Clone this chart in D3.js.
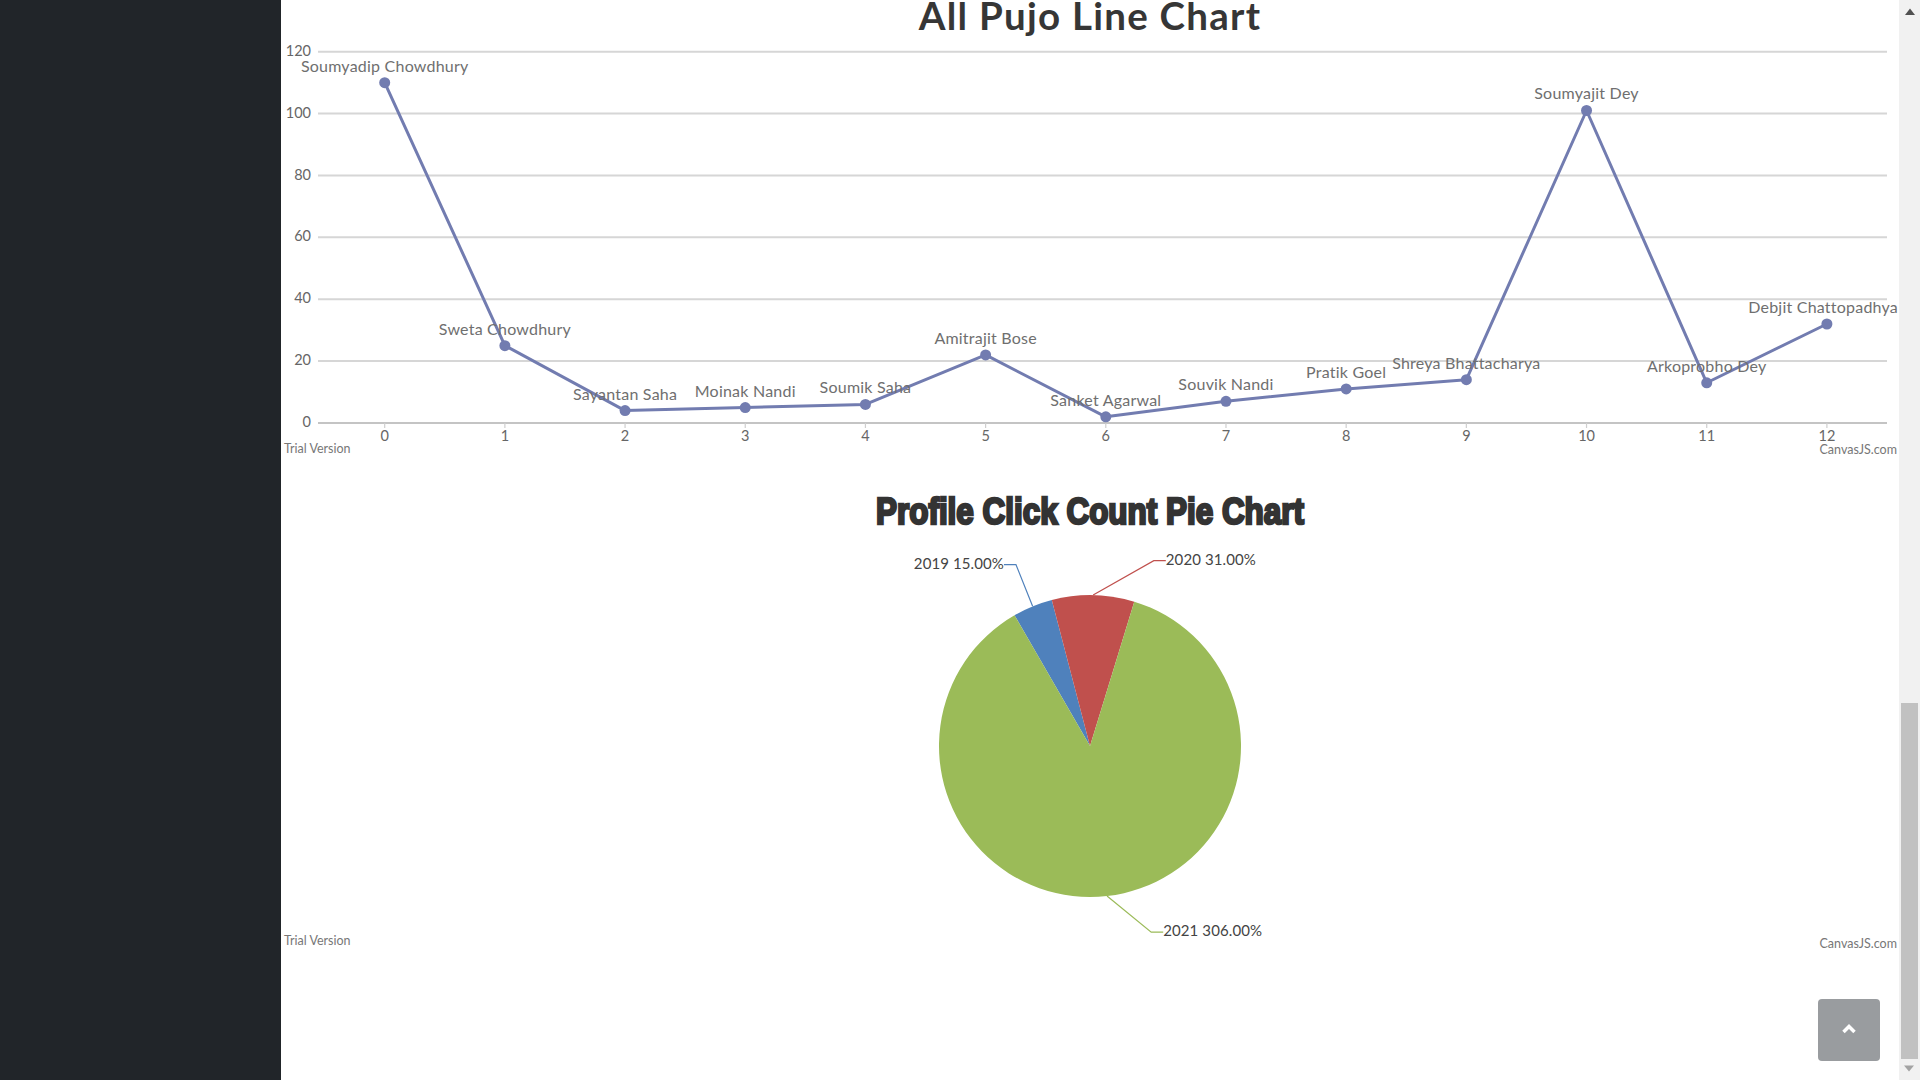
<!DOCTYPE html>
<html>
<head>
<meta charset="utf-8">
<script src="https://cdn.jsdelivr.net/npm/d3@7"></script>
<style>
html,body{margin:0;padding:0;background:#fff;overflow:hidden;width:1920px;height:1080px}
svg{position:absolute;left:0;top:0;display:block}
text{font-family:Lato,"Noto Sans",sans-serif}
</style>
</head>
<body>
<svg id="c" width="1920" height="1080"></svg>
<script>
const pointNames = ["Soumyadip Chowdhury","Sweta Chowdhury","Sayantan Saha","Moinak Nandi","Soumik Saha","Amitrajit Bose","Sanket Agarwal","Souvik Nandi","Pratik Goel","Shreya Bhattacharya","Soumyajit Dey","Arkoprobho Dey","Debjit Chattopadhya"];
const pointIndex = [0,1,2,3,4,5,6,7,8,9,10,11,12];
const pointValues = [110,25,4,5,6,22,2,7,11,14,101,13,32];
const yTicks = [0,20,40,60,80,100,120];
const pieYears = ["2019","2020","2021"];
const pieValues = [15,31,306];
const pieColors = ["#4F81BC","#C0504D","#9BBB58"];
const lineColor = "#727CB0";

const svg = d3.select("#c");
const FONT_AXIS = 14.5, FONT_LABEL = 16;

// page chrome
svg.append("rect").attr("x",0).attr("y",0).attr("width",281).attr("height",1080).attr("fill","#212529");
svg.append("rect").attr("x",1899).attr("y",0).attr("width",21).attr("height",1080).attr("fill","#f1f1f1");
svg.append("rect").attr("x",1901).attr("y",703).attr("width",17).attr("height",356).attr("fill","#c1c1c1");
svg.append("path").attr("d","M1905 15L1910 8.5L1915 15Z").attr("fill","#505050");
svg.append("path").attr("d","M1904 1065.5L1914 1065.5L1909 1071.5Z").attr("fill","#a3a3a3");
svg.append("rect").attr("x",1818).attr("y",999).attr("width",62).attr("height",62).attr("rx",4).attr("fill","#999c9f");
svg.append("path").attr("d","M1843.5 1032L1849 1026.5L1854.5 1032").attr("fill","none").attr("stroke","#fff").attr("stroke-width",3.5);

// line chart
const x = d3.scaleLinear().domain([-0.555,12.5]).range([318,1887]);
const y = d3.scaleLinear().domain([0,120]).range([423,51.7]);

svg.append("text").attr("x",1090).attr("y",30).attr("text-anchor","middle")
  .attr("font-size",38.5).attr("font-weight",700).attr("letter-spacing",1.25).attr("fill","#363636").text("All Pujo Line Chart");

const yAxis = svg.append("g").attr("transform","translate(318,0)")
  .call(d3.axisLeft(y).tickValues(yTicks).tickSize(-(1887-318)).tickPadding(7).offset(0));
yAxis.select(".domain").remove();
yAxis.selectAll("line").attr("stroke","#d6d6d6").attr("stroke-width",2);
yAxis.selectAll("text").attr("font-size",FONT_AXIS).attr("fill","#666").style("font-family","Lato").attr("dy","0.28em");

const xAxis = svg.append("g").attr("transform","translate(0,423)")
  .call(d3.axisBottom(x).tickValues(pointIndex).tickFormat(d3.format("d")).tickSizeOuter(0).tickSizeInner(5).tickPadding(3).offset(0));
xAxis.select(".domain").attr("stroke","#c4c4c4").attr("stroke-width",2.2);
xAxis.selectAll("line").attr("stroke","#cfcfcf").attr("stroke-width",1.2);
xAxis.selectAll("text").attr("font-size",FONT_AXIS).attr("fill","#666").style("font-family","Lato");

const series = pointIndex.map((d,i)=>({i:d,v:pointValues[i],name:pointNames[i]}));
svg.append("path").datum(series)
  .attr("d",d3.line().x(d=>x(d.i)).y(d=>y(d.v)))
  .attr("fill","none").attr("stroke",lineColor).attr("stroke-width",3).attr("stroke-linejoin","round");
svg.append("g").selectAll("circle").data(series).join("circle")
  .attr("cx",d=>x(d.i)).attr("cy",d=>y(d.v)).attr("r",5.5).attr("fill",lineColor);
svg.append("g").selectAll("text").data(series).join("text")
  .attr("x",d=>x(d.i)).attr("y",d=>y(d.v)-11)
  .attr("text-anchor","middle").attr("font-size",FONT_LABEL).attr("fill","#6f6f6f").attr("letter-spacing",0.22)
  .text(d=>d.name)
  .each(function(d){
    const w=this.getComputedTextLength(), right=x(d.i)+w/2;
    if(right>1898) d3.select(this).attr("x",1898-w/2);
  });

function credits(yTrial,yBrand){
  svg.append("text").attr("x",284).attr("y",yTrial).attr("font-size",12.5).attr("fill","#777").text("Trial Version");
  svg.append("text").attr("x",1897).attr("y",yBrand).attr("text-anchor","end").attr("font-size",12.5).attr("fill","#777").text("CanvasJS.com");
}
credits(453,454);

// pie chart
svg.append("text").attr("x",1090).attr("y",523.5).attr("text-anchor","middle")
  .attr("font-size",37).attr("font-weight",700).attr("fill","#333").attr("stroke","#333").attr("stroke-width",2.6)
  .attr("textLength",428).attr("lengthAdjust","spacingAndGlyphs")
  .style("font-family","'Liberation Sans'").text("Profile Click Count Pie Chart");

const cx=1090, cy=746, R=151, elbowR=196, elbowRun=12;
const rad=d=>d*Math.PI/180;
const elbowAngle=[-22.2,19,161.8];
const startA=rad(-30);
const pie=d3.pie().sort(null).startAngle(startA).endAngle(startA+2*Math.PI);
const arcs=pie(pieValues);
const arc=d3.arc().innerRadius(0).outerRadius(R);
const g=svg.append("g").attr("transform",`translate(${cx},${cy})`);
g.selectAll("path.s").data(arcs).join("path").attr("class","s").attr("d",arc).attr("fill",(d,i)=>pieColors[i]);
const polar=(r,a)=>[r*Math.sin(a),-r*Math.cos(a)];
arcs.forEach((d,i)=>{
  const mid=(d.startAngle+d.endAngle)/2;
  const p0=polar(R,mid), p1=polar(elbowR,rad(elbowAngle[i]));
  const left=p1[0]<0;
  const p2=[p1[0]+(left?-elbowRun:elbowRun),p1[1]];
  g.append("polyline").attr("points",[p0,p1,p2].map(p=>p.join(",")).join(" "))
    .attr("fill","none").attr("stroke",pieColors[i]).attr("stroke-width",1.2);
  g.append("text").attr("x",p2[0]).attr("y",p2[1]).attr("dy","0.28em")
    .attr("text-anchor",left?"end":"start").attr("font-size",15).attr("fill","#444").attr("letter-spacing",0.1)
    .text(pieYears[i]+" "+d3.format(".2f")(d.data)+"%");
});
credits(945,948);
</script>
</body>
</html>
